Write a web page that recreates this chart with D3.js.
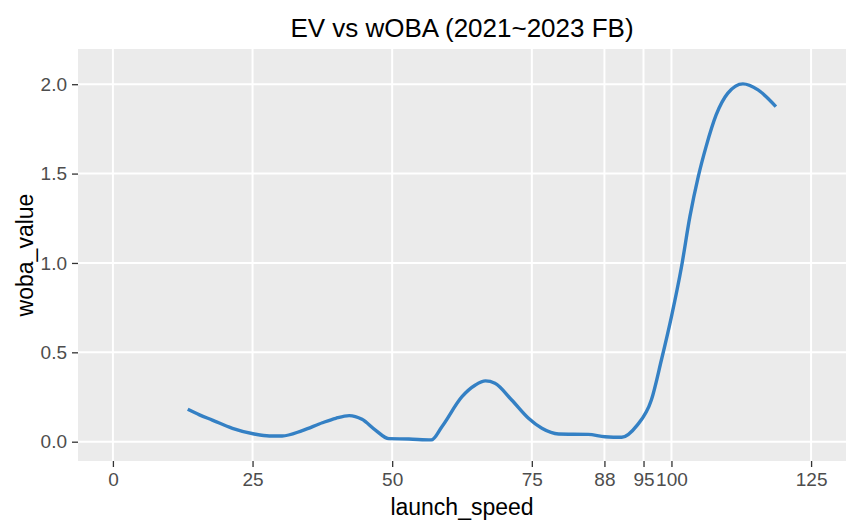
<!DOCTYPE html>
<html>
<head>
<meta charset="utf-8">
<script src="https://cdn.jsdelivr.net/npm/d3@7"></script>
<style>
  html, body { margin: 0; padding: 0; background: #ffffff; }
  svg { display: block; font-family: "Liberation Sans", Arial, sans-serif; }
</style>
</head>
<body>
<svg id="chart" width="859" height="532"></svg>
<script>
// ---- data ----
const launchSpeed = [13.4, 15.5, 17.8, 21.4, 25.3, 28.0, 30.3, 33.9, 37.5, 39.9, 42.3, 44.6, 47.0, 49.4, 53.0, 57.0,
  58.9, 62.5, 64.9, 66.7, 68.4, 71.4, 74.4, 76.8, 79.8, 85.1, 88.1, 91.1, 93.8, 96.4, 98.2,
  100.0, 101.8, 103.3, 104.8, 106.2, 108.0, 110.1, 112.8, 115.5, 118.7];
const wobaValue = [0.181, 0.150, 0.121, 0.075, 0.043, 0.032, 0.032, 0.062, 0.106, 0.131, 0.146, 0.125, 0.065, 0.017, 0.015, 0.010,
  0.084, 0.252, 0.317, 0.340, 0.327, 0.233, 0.131, 0.075, 0.043, 0.041, 0.028, 0.025, 0.090, 0.233, 0.457,
  0.700, 0.979, 1.259, 1.483, 1.651, 1.828, 1.950, 2.002, 1.968, 1.875];
const xTicks = [0, 25, 50, 75, 88, 95, 100, 125];
const yTicks = [0.0, 0.5, 1.0, 1.5, 2.0];
const titleText = "EV vs wOBA (2021~2023 FB)";
const xLabel = "launch_speed";
const yLabel = "woba_value";

// ---- layout ----
const svg = d3.select("#chart");
const panel = { left: 78, right: 846, top: 49, bottom: 461 };

const x = d3.scaleLinear().domain([-6.25, 131.25]).range([panel.left, panel.right]);
const y = d3.scaleLinear().domain([-0.108, 2.197]).range([panel.bottom, panel.top]);

// panel background
svg.append("rect")
  .attr("x", panel.left).attr("y", panel.top)
  .attr("width", panel.right - panel.left).attr("height", panel.bottom - panel.top)
  .attr("fill", "#EBEBEB");

// grid
const grid = svg.append("g");
grid.selectAll("line.vx").data(xTicks).enter().append("line")
  .attr("x1", d => x(d)).attr("x2", d => x(d))
  .attr("y1", panel.top).attr("y2", panel.bottom)
  .attr("stroke", "#ffffff").attr("stroke-width", 2);
grid.selectAll("line.hy").data(yTicks).enter().append("line")
  .attr("y1", d => y(d)).attr("y2", d => y(d))
  .attr("x1", panel.left).attr("x2", panel.right)
  .attr("stroke", "#ffffff").attr("stroke-width", 2);

// line
const pts = launchSpeed.map((v, i) => [v, wobaValue[i]]);
const line = d3.line().x(d => x(d[0])).y(d => y(d[1])).curve(d3.curveMonotoneX);
svg.append("path")
  .datum(pts)
  .attr("d", line)
  .attr("fill", "none")
  .attr("stroke", "#3480C4")
  .attr("stroke-width", 3.4)
  .attr("stroke-linejoin", "round");

// axes
const xAxis = d3.axisBottom(x).tickValues(xTicks).tickFormat(d3.format("d")).tickSize(6).tickPadding(6);
const gx = svg.append("g").attr("transform", `translate(0,${panel.bottom})`).call(xAxis);
gx.select(".domain").remove();
gx.selectAll(".tick line").attr("stroke", "#333333").attr("stroke-width", 1.3);
gx.selectAll(".tick text").attr("fill", "#4D4D4D").attr("font-size", 19)
  .attr("font-family", "'Liberation Sans', Arial, sans-serif");

const yAxis = d3.axisLeft(y).tickValues(yTicks).tickFormat(d3.format(".1f")).tickSize(6).tickPadding(5);
const gy = svg.append("g").attr("transform", `translate(${panel.left},0)`).call(yAxis);
gy.select(".domain").remove();
gy.selectAll(".tick line").attr("stroke", "#333333").attr("stroke-width", 1.3);
gy.selectAll(".tick text").attr("fill", "#4D4D4D").attr("font-size", 19)
  .attr("font-family", "'Liberation Sans', Arial, sans-serif");

// titles
svg.append("text")
  .attr("x", (panel.left + panel.right) / 2).attr("y", 37)
  .attr("text-anchor", "middle").attr("font-size", 26).attr("fill", "#000")
  .text(titleText);

svg.append("text")
  .attr("x", (panel.left + panel.right) / 2).attr("y", 515)
  .attr("text-anchor", "middle").attr("font-size", 23).attr("fill", "#000")
  .text(xLabel);

svg.append("text")
  .attr("transform", `translate(33,${(panel.top + panel.bottom) / 2}) rotate(-90)`)
  .attr("text-anchor", "middle").attr("font-size", 23).attr("fill", "#000")
  .text(yLabel);
</script>
</body>
</html>
